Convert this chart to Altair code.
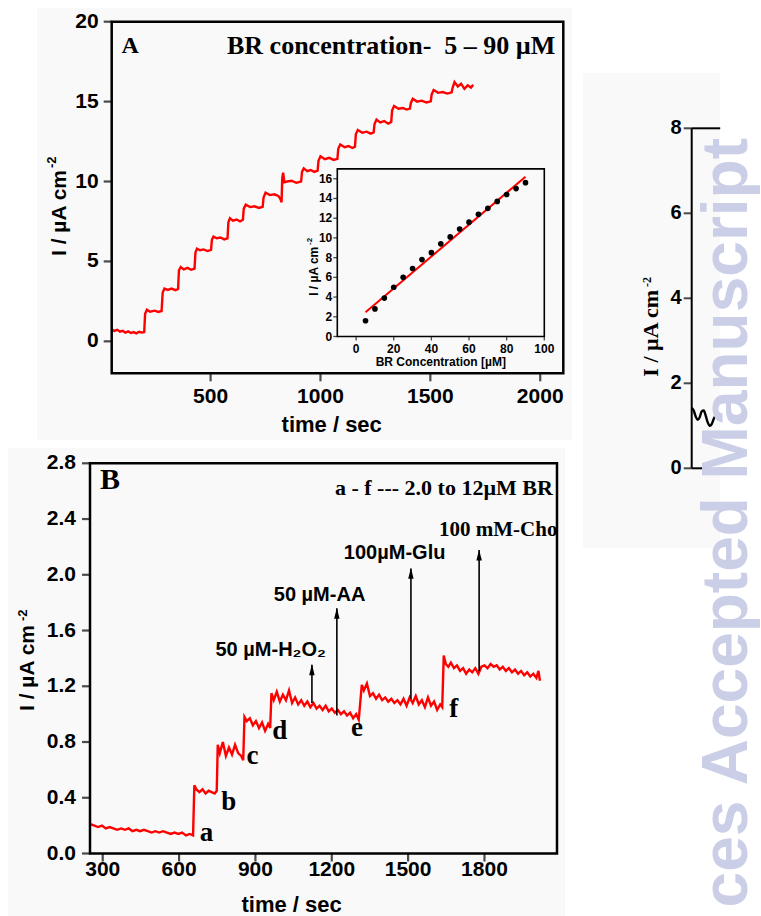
import altair as alt
import pandas as pd

ARIAL = "Liberation Sans"
TIMES = "Liberation Serif"
RED = "#ff0000"

# ---------------- Panel A: amperometric i-t (BR 5-90 uM) ----------------
time_a = [
    50, 62, 75, 88, 100, 112, 125, 138, 150, 162, 175, 188, 198,
    202, 210, 225, 245, 262, 277,
    282, 290, 305, 322, 340, 352,
    356, 364, 378, 395, 412, 427,
    431, 438, 452, 468, 486, 502,
    506, 513, 528, 545, 562, 577,
    581, 588, 602, 618, 634, 647,
    651, 660, 680, 700, 720, 737,
    741, 750, 770, 790, 808, 818, 823,
    826, 830, 836, 848, 868, 890, 912,
    916, 924, 940, 955, 972, 987,
    991, 1000, 1020, 1040, 1060, 1077,
    1081, 1090, 1110, 1128, 1145, 1157,
    1161, 1170, 1190, 1210, 1228, 1242,
    1246, 1255, 1272, 1290, 1308, 1322,
    1326, 1335, 1355, 1375, 1392, 1407,
    1411, 1420, 1440, 1460, 1482, 1502,
    1506, 1515, 1535, 1555, 1578, 1597,
    1601, 1610, 1625, 1640, 1655, 1670, 1685, 1695,
]
current_a = [
    0.75, 0.65, 0.72, 0.60, 0.66, 0.55, 0.62, 0.52, 0.58, 0.50, 0.60, 0.55, 0.58,
    1.72, 1.98, 1.85, 1.92, 1.84, 1.90,
    3.05, 3.30, 3.22, 3.30, 3.20, 3.28,
    4.45, 4.65, 4.50, 4.60, 4.48, 4.55,
    5.55, 5.80, 5.70, 5.75, 5.65, 5.72,
    6.35, 6.55, 6.45, 6.50, 6.38, 6.45,
    7.45, 7.70, 7.55, 7.62, 7.50, 7.60,
    8.30, 8.55, 8.40, 8.45, 8.35, 8.42,
    9.00, 9.30, 9.15, 9.20, 9.10, 8.90, 8.70,
    10.20, 10.55, 9.95, 10.00, 10.05, 9.92, 10.00,
    10.60, 10.82, 10.65, 10.72, 10.60, 10.68,
    11.30, 11.58, 11.40, 11.48, 11.35, 11.42,
    12.05, 12.32, 12.15, 12.22, 12.10, 12.18,
    12.95, 13.22, 13.05, 13.12, 13.00, 13.08,
    13.60, 13.88, 13.70, 13.78, 13.62, 13.72,
    14.45, 14.72, 14.55, 14.60, 14.50, 14.56,
    14.90, 15.18, 15.00, 15.06, 14.95, 15.02,
    15.45, 15.72, 15.55, 15.60, 15.50, 15.58,
    15.85, 16.22, 15.95, 16.12, 15.80, 16.02, 15.88, 16.05,
]

# ---------------- Panel A inset: calibration ----------------
conc_inset = [5, 10, 15, 20, 25, 30, 35, 40, 45, 50, 55, 60, 65, 70, 75, 80, 85, 90]
current_inset = [1.6, 2.8, 3.9, 5.0, 6.0, 6.9, 7.8, 8.5, 9.4, 10.1, 10.9, 11.6,
                 12.4, 13.0, 13.7, 14.4, 15.0, 15.6]
fit_conc = [5, 90]
fit_current = [2.45, 16.2]

# ---------------- Panel B: interference study ----------------
time_b = [
    252, 267, 282, 297, 312, 327, 342, 357, 372, 387, 402, 417, 432, 447,
    462, 477, 492, 507, 522, 537, 552, 567, 582, 597, 612, 627, 642, 655,
    660, 668, 680, 692, 704, 716, 728, 740, 748,
    752, 760, 772, 784, 796, 808, 820, 832, 844, 852,
    857, 866, 878, 890, 902, 914, 926, 938, 950, 958,
    963, 972, 984, 996, 1008, 1020, 1032, 1044, 1056, 1068,
    1080, 1092, 1104, 1116, 1128, 1140, 1152, 1164, 1176, 1188,
    1200, 1212, 1224, 1236, 1248, 1260, 1272, 1284, 1296, 1306,
    1318, 1326, 1338, 1350, 1362, 1374, 1386, 1398, 1410, 1422,
    1434, 1446, 1458, 1470, 1482, 1494, 1506, 1518, 1530, 1542,
    1554, 1566, 1578, 1590, 1602, 1614, 1626, 1634,
    1640, 1648, 1658, 1668, 1680, 1692, 1704, 1716, 1728, 1740,
    1752, 1764, 1776, 1788, 1800, 1812, 1824, 1836, 1848, 1860,
    1872, 1884, 1896, 1908, 1920, 1932, 1944, 1956, 1968, 1980,
    1992, 2004, 2012, 2018,
]
current_b = [
    0.21, 0.20, 0.19, 0.20, 0.18, 0.19, 0.18, 0.17, 0.18, 0.17, 0.18, 0.16, 0.17, 0.16,
    0.17, 0.16, 0.15, 0.16, 0.15, 0.16, 0.15, 0.14, 0.15, 0.14, 0.15, 0.13, 0.14, 0.13,
    0.49, 0.46, 0.44, 0.46, 0.43, 0.45, 0.44, 0.43, 0.45,
    0.78, 0.72, 0.80, 0.70, 0.76, 0.71, 0.78, 0.72, 0.70, 0.67,
    0.98, 0.95, 0.97, 0.92, 0.95, 0.90, 0.94, 0.88, 0.93, 0.90,
    1.15, 1.10, 1.16, 1.09, 1.14, 1.10, 1.17, 1.08, 1.12, 1.07,
    1.10, 1.06, 1.09, 1.05, 1.08, 1.04, 1.06, 1.03, 1.06, 1.02,
    1.04, 1.01, 1.03, 1.00, 1.02, 0.99, 1.01, 0.97, 1.00, 0.96,
    1.21, 1.17, 1.22, 1.13, 1.15, 1.11, 1.14, 1.10, 1.12, 1.09,
    1.11, 1.08, 1.10, 1.07, 1.11, 1.06, 1.12, 1.08, 1.13, 1.07,
    1.10, 1.05, 1.12, 1.06, 1.09, 1.03, 1.07, 1.05,
    1.42, 1.36, 1.34, 1.37, 1.33, 1.35, 1.31, 1.33, 1.29, 1.32,
    1.30, 1.33, 1.29, 1.34, 1.35, 1.33, 1.36, 1.34, 1.35, 1.32,
    1.34, 1.31, 1.33, 1.30, 1.32, 1.29, 1.31, 1.28, 1.30, 1.27,
    1.29, 1.26, 1.31, 1.24,
]
step_letters = ["a", "b", "c", "d", "e", "f"]
step_letter_t = [708, 795, 888, 996, 1299, 1679]
step_letter_i = [0.144, 0.372, 0.70, 0.876, 0.90, 1.04]

interf_names = ["50 µM-H₂O₂", "50 µM-AA", "100µM-Glu", "100 mM-Cho"]
interf_fonts = [ARIAL, ARIAL, ARIAL, TIMES]
interf_t = [1122, 1220, 1511, 1779]
interf_base = [1.08, 0.99, 1.11, 1.31]
interf_tip = [1.354, 1.759, 2.046, 2.177]
interf_label_t = [960, 1152, 1447, 1854]
interf_label_i = [1.46, 1.855, 2.153, 2.32]

# ---------------- right partial panel ----------------
wave_x = [0, 2, 4, 6, 8, 10, 12, 14, 16, 18, 20, 22, 24, 26]
wave_i = [1.42, 1.36, 1.22, 1.14, 1.20, 1.34, 1.36, 1.24, 1.08, 1.00, 1.04, 1.16, 1.24, 1.22]

# ---------------- tick values ----------------
ticks_a_x = [500, 1000, 1500, 2000]
ticks_a_y = [0, 5, 10, 15, 20]
ticks_in_x = [0, 20, 40, 60, 80, 100]
ticks_in_y = [0, 2, 4, 6, 8, 10, 12, 14, 16]
ticks_b_x = [300, 600, 900, 1200, 1500, 1800]
ticks_b_y = [0.0, 0.4, 0.8, 1.2, 1.6, 2.0, 2.4, 2.8]
ticks_b_y_lab = ["0.0", "0.4", "0.8", "1.2", "1.6", "2.0", "2.4", "2.8"]
ticks_r_y = [0, 2, 4, 6, 8]


def S(dom, rng):
    return alt.Scale(domain=dom, range=rng, nice=False, zero=False)


A_XD, A_YD = [50, 2105], [-2, 20]
A_X, A_Y = S(A_XD, [111.7, 563.3]), S(A_YD, [373.3, 21.7])
I_XD, I_YD = [-10, 100], [0, 17]
I_X, I_Y = S(I_XD, [337.3, 544.3]), S(I_YD, [336.5, 168.9])
B_XD, B_YD = [250, 2085], [0, 2.8]
B_X, B_Y = S(B_XD, [90, 557]), S(B_YD, [853.5, 463.3])
R_XD, R_YD = [0, 30], [0, 8]
R_X, R_Y = S(R_XD, [691.7, 721.7]), S(R_YD, [468.3, 128.3])


def qx(f, s):
    return alt.X(f, type="quantitative", scale=s, axis=None)


def qy(f, s):
    return alt.Y(f, type="quantitative", scale=s, axis=None)


def dX(v, s):
    return alt.XDatum(v, type="quantitative", scale=s, axis=None)


def dY(v, s):
    return alt.YDatum(v, type="quantitative", scale=s, axis=None)


def one(label):
    return pd.DataFrame({"label": [label]})


def ptext(label, x, y, **mk):
    return alt.Chart(one(label)).mark_text(**mk).encode(
        x=alt.value(x), y=alt.value(y), text="label:N")


layers = []

# faint grey backgrounds of the scanned panels
for (x0, x1, y0, y1) in [(37, 572, 8, 440), (8, 565, 448, 916), (583, 720, 73, 548)]:
    layers.append(alt.Chart(one("")).mark_rect(fill="#f9f9f9").encode(
        x=alt.value(x0), x2=alt.value(x1), y=alt.value(y0), y2=alt.value(y1)))

# ================= PANEL A =================
df_a = pd.DataFrame({"t": time_a, "i": current_a})
layers.append(alt.Chart(df_a).mark_line(color=RED, strokeWidth=2.4).encode(
    x=qx("t", A_X), y=qy("i", A_Y)))
frame_a = pd.DataFrame({"x0": [A_XD[0]], "x1": [A_XD[1]], "y0": [A_YD[0]], "y1": [A_YD[1]]})
layers.append(alt.Chart(frame_a).mark_rect(fillOpacity=0, stroke="black", strokeWidth=2.5).encode(
    x=qx("x0", A_X), x2="x1", y=qy("y0", A_Y), y2="y1"))
tay = pd.DataFrame({"v": ticks_a_y, "lab": [str(v) for v in ticks_a_y]})
layers.append(alt.Chart(tay).mark_tick(orient="horizontal", size=8, thickness=2.2, xOffset=-4, color="black").encode(
    x=dX(A_XD[0], A_X), y=qy("v", A_Y)))
layers.append(alt.Chart(tay).mark_text(align="right", baseline="middle", dx=-13, font=ARIAL,
                                       fontWeight="bold", fontSize=21, color="black").encode(
    x=dX(A_XD[0], A_X), y=qy("v", A_Y), text="lab:N"))
tax = pd.DataFrame({"v": ticks_a_x, "lab": [str(v) for v in ticks_a_x]})
layers.append(alt.Chart(tax).mark_tick(orient="vertical", size=8, thickness=2.2, yOffset=4, color="black").encode(
    x=qx("v", A_X), y=dY(A_YD[0], A_Y)))
layers.append(alt.Chart(tax).mark_text(align="center", baseline="middle", dy=23.5, font=ARIAL,
                                       fontWeight="bold", fontSize=21, color="black").encode(
    x=qx("v", A_X), y=dY(A_YD[0], A_Y), text="lab:N"))
layers.append(ptext("time / sec", 331.7, 425, align="center", baseline="middle", font=ARIAL,
                    fontWeight="bold", fontSize=22))
layers.append(ptext("I / µA cm", 66, 170, angle=270, align="right", baseline="alphabetic",
                    font=ARIAL, fontWeight="bold", fontSize=21))
layers.append(ptext("-2", 56, 168, angle=270, align="left", baseline="alphabetic",
                    font=ARIAL, fontWeight="bold", fontSize=13))
layers.append(alt.Chart(one("A")).mark_text(align="left", baseline="middle", font=TIMES,
                                            fontWeight="bold", fontSize=24).encode(
    x=dX(95, A_X), y=dY(18.5, A_Y), text="label:N"))
layers.append(alt.Chart(one("BR concentration-\u00a0 5 – 90 µM")).mark_text(
    align="right", baseline="middle", font=TIMES, fontWeight="bold", fontSize=26).encode(
    x=dX(2069, A_X), y=dY(18.5, A_Y), text="label:N"))

# ---- inset ----
df_in = pd.DataFrame({"c": conc_inset, "i": current_inset})
df_fit = pd.DataFrame({"c": fit_conc, "i": fit_current})
layers.append(alt.Chart(df_fit).mark_line(color=RED, strokeWidth=2).encode(
    x=qx("c", I_X), y=qy("i", I_Y)))
layers.append(alt.Chart(df_in).mark_circle(color="black", size=32, opacity=1).encode(
    x=qx("c", I_X), y=qy("i", I_Y)))
frame_in = pd.DataFrame({"x0": [I_XD[0]], "x1": [I_XD[1]], "y0": [I_YD[0]], "y1": [I_YD[1]]})
layers.append(alt.Chart(frame_in).mark_rect(fillOpacity=0, stroke="black", strokeWidth=1.6).encode(
    x=qx("x0", I_X), x2="x1", y=qy("y0", I_Y), y2="y1"))
tiy = pd.DataFrame({"v": ticks_in_y, "lab": [str(v) for v in ticks_in_y]})
layers.append(alt.Chart(tiy).mark_tick(orient="horizontal", size=4, thickness=1.3, xOffset=-2, color="black").encode(
    x=dX(I_XD[0], I_X), y=qy("v", I_Y)))
layers.append(alt.Chart(tiy).mark_text(align="right", baseline="middle", dx=-5, font=ARIAL,
                                       fontWeight="bold", fontSize=12, color="black").encode(
    x=dX(I_XD[0], I_X), y=qy("v", I_Y), text="lab:N"))
tix = pd.DataFrame({"v": ticks_in_x, "lab": [str(v) for v in ticks_in_x]})
layers.append(alt.Chart(tix).mark_tick(orient="vertical", size=4, thickness=1.3, yOffset=2, color="black").encode(
    x=qx("v", I_X), y=dY(I_YD[0], I_Y)))
layers.append(alt.Chart(tix).mark_text(align="center", baseline="middle", dy=12.5, font=ARIAL,
                                       fontWeight="bold", fontSize=12, color="black").encode(
    x=qx("v", I_X), y=dY(I_YD[0], I_Y), text="lab:N"))
layers.append(ptext("BR Concentration [µM]", 440.8, 361.7, align="center", baseline="middle",
                    font=ARIAL, fontWeight="bold", fontSize=12))
layers.append(ptext("I / µA cm", 318, 246.7, angle=270, align="right", baseline="alphabetic",
                    font=ARIAL, fontWeight="bold", fontSize=12))
layers.append(ptext("-2", 312, 245, angle=270, align="left", baseline="alphabetic",
                    font=ARIAL, fontWeight="bold", fontSize=8))

# ================= PANEL B =================
df_b = pd.DataFrame({"t": time_b, "i": current_b})
layers.append(alt.Chart(df_b).mark_line(color=RED, strokeWidth=2.4).encode(
    x=qx("t", B_X), y=qy("i", B_Y)))
frame_b = pd.DataFrame({"x0": [B_XD[0]], "x1": [B_XD[1]], "y0": [B_YD[0]], "y1": [B_YD[1]]})
layers.append(alt.Chart(frame_b).mark_rect(fillOpacity=0, stroke="black", strokeWidth=2.5).encode(
    x=qx("x0", B_X), x2="x1", y=qy("y0", B_Y), y2="y1"))
tby = pd.DataFrame({"v": ticks_b_y, "lab": ticks_b_y_lab})
layers.append(alt.Chart(tby).mark_tick(orient="horizontal", size=8, thickness=2.2, xOffset=-4, color="black").encode(
    x=dX(B_XD[0], B_X), y=qy("v", B_Y)))
layers.append(alt.Chart(tby).mark_text(align="right", baseline="middle", dx=-14, font=ARIAL,
                                       fontWeight="bold", fontSize=21, color="black").encode(
    x=dX(B_XD[0], B_X), y=qy("v", B_Y), text="lab:N"))
tbx = pd.DataFrame({"v": ticks_b_x, "lab": [str(v) for v in ticks_b_x]})
layers.append(alt.Chart(tbx).mark_tick(orient="vertical", size=8, thickness=2.2, yOffset=4, color="black").encode(
    x=qx("v", B_X), y=dY(B_YD[0], B_Y)))
layers.append(alt.Chart(tbx).mark_text(align="center", baseline="middle", dy=16.5, font=ARIAL,
                                       fontWeight="bold", fontSize=21, color="black").encode(
    x=qx("v", B_X), y=dY(B_YD[0], B_Y), text="lab:N"))
layers.append(ptext("time / sec", 291.6, 905, align="center", baseline="middle", font=ARIAL,
                    fontWeight="bold", fontSize=22))
layers.append(ptext("I / µA cm", 33.5, 625, angle=270, align="right", baseline="alphabetic",
                    font=ARIAL, fontWeight="bold", fontSize=21))
layers.append(ptext("-2", 27, 621, angle=270, align="left", baseline="alphabetic",
                    font=ARIAL, fontWeight="bold", fontSize=13))
layers.append(alt.Chart(one("B")).mark_text(align="left", baseline="middle", font=TIMES,
                                            fontWeight="bold", fontSize=30).encode(
    x=dX(289, B_X), y=dY(2.68, B_Y), text="label:N"))
layers.append(alt.Chart(one("a - f --- 2.0 to 12µM BR")).mark_text(
    align="right", baseline="middle", font=TIMES, fontWeight="bold", fontSize=22).encode(
    x=dX(2069, B_X), y=dY(2.62, B_Y), text="label:N"))

df_letters = pd.DataFrame({"t": step_letter_t, "i": step_letter_i, "lab": step_letters})
layers.append(alt.Chart(df_letters).mark_text(align="center", baseline="middle", font=TIMES,
                                              fontWeight="bold", fontSize=27, color="black").encode(
    x=qx("t", B_X), y=qy("i", B_Y), text="lab:N"))

df_arr = pd.DataFrame({"t": interf_t, "i0": interf_base, "i1": interf_tip,
                       "lt": interf_label_t, "li": interf_label_i, "name": interf_names,
                       "font": interf_fonts})
layers.append(alt.Chart(df_arr).mark_rule(color="black", strokeWidth=1.6).encode(
    x=qx("t", B_X), y=qy("i0", B_Y), y2=alt.Y2("i1")))
layers.append(alt.Chart(df_arr).mark_point(shape="M0,-1L0.5,1L-0.5,1Z", size=120, filled=True,
                                           color="black", opacity=1, yOffset=5).encode(
    x=qx("t", B_X), y=qy("i1", B_Y)))
layers.append(alt.Chart(df_arr[df_arr["font"] == ARIAL]).mark_text(
    align="center", baseline="middle", font=ARIAL, fontWeight="bold", fontSize=20, color="black").encode(
    x=qx("lt", B_X), y=qy("li", B_Y), text="name:N"))
layers.append(alt.Chart(df_arr[df_arr["font"] == TIMES]).mark_text(
    align="center", baseline="middle", font=TIMES, fontWeight="bold", fontSize=21, color="black").encode(
    x=qx("lt", B_X), y=qy("li", B_Y), text="name:N"))

# ================= RIGHT PARTIAL PANEL =================
df_w = pd.DataFrame({"x": wave_x, "i": wave_i})
layers.append(alt.Chart(df_w).mark_line(color="black", strokeWidth=2.4, interpolate="monotone").encode(
    x=qx("x", R_X), y=qy("i", R_Y)))
layers.append(alt.Chart(one("")).mark_rule(color="black", strokeWidth=2).encode(
    x=dX(0, R_X), y=dY(0, R_Y), y2=alt.Y2Datum(8)))
layers.append(alt.Chart(one("")).mark_rule(color="black", strokeWidth=2).encode(
    x=dX(0, R_X), x2=alt.X2Datum(28.5), y=dY(8, R_Y)))
layers.append(alt.Chart(one("")).mark_rule(color="black", strokeWidth=2).encode(
    x=dX(0, R_X), x2=alt.X2Datum(15), y=dY(0, R_Y)))
try_ = pd.DataFrame({"v": ticks_r_y, "lab": [str(v) for v in ticks_r_y]})
layers.append(alt.Chart(try_).mark_tick(orient="horizontal", size=8, thickness=2, xOffset=-4, color="black").encode(
    x=dX(0, R_X), y=qy("v", R_Y)))
layers.append(alt.Chart(try_).mark_text(align="right", baseline="middle", dx=-10, font=ARIAL,
                                        fontWeight="bold", fontSize=20, color="black").encode(
    x=dX(0, R_X), y=qy("v", R_Y), text="lab:N"))
layers.append(ptext("I / µA cm", 658, 290, angle=270, align="right", baseline="alphabetic",
                    font=TIMES, fontWeight="bold", fontSize=22))
layers.append(ptext("-2", 651, 287, angle=270, align="left", baseline="alphabetic",
                    font=TIMES, fontWeight="bold", fontSize=12))

# ================= watermark =================
layers.append(ptext("ces Accepted Manuscript", 747, 138, angle=270, align="right",
                    baseline="alphabetic", font=ARIAL, fontWeight="bold", fontSize=64,
                    color="#cbcee7"))

chart = alt.layer(*layers).resolve_scale(x="independent", y="independent").properties(
    width=761, height=916, padding=0, autosize=alt.AutoSizeParams(type="none")
).configure_view(stroke=None)

chart.save("out.html", embed_options={"renderer": "svg", "actions": False})
